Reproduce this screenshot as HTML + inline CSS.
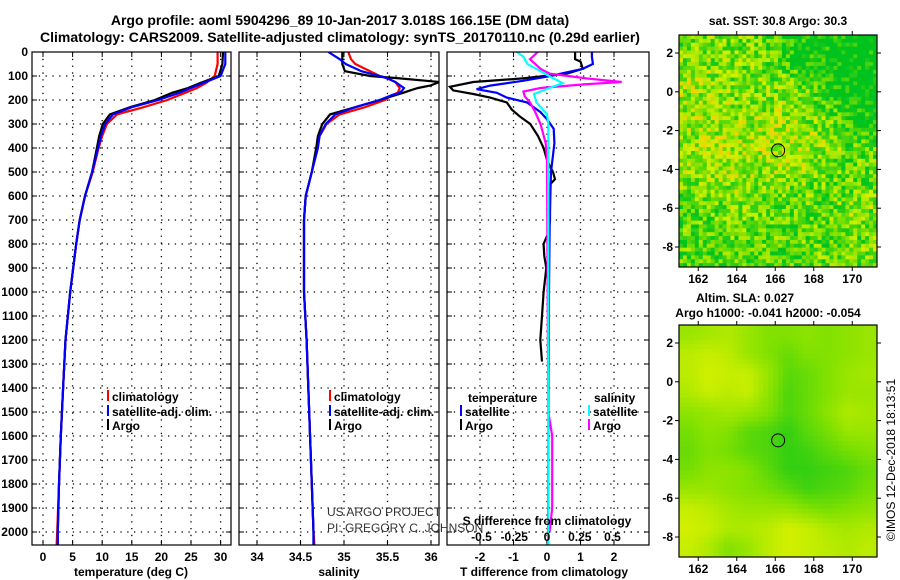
<!DOCTYPE html>
<html><head><meta charset="utf-8"><style>
body{margin:0;background:#fff;width:900px;height:580px;overflow:hidden}
svg{display:block}
text{font-family:"Liberation Sans",sans-serif;font-weight:bold;font-size:12px;fill:#000}
</style></head><body>
<svg id="s" width="900" height="580" xmlns="http://www.w3.org/2000/svg">
<text x="340" y="25" text-anchor="middle" style="font-size:14px">Argo profile: aoml 5904296_89 10-Jan-2017 3.018S 166.15E (DM data)</text>
<text x="340" y="42" text-anchor="middle" style="font-size:14px">Climatology: CARS2009. Satellite-adjusted climatology: synTS_20170110.nc (0.29d earlier)</text>
<g id="g"></g>
</svg>
<script>
// ---- data ----
const tDepth=[0,50,100,130,150,170,200,230,260,300,350,400,500,600,700,800,1000,1200,1400,1600,1800,2000,2054];
const tArgo=[30.4,30.3,29.7,26.5,24.5,21.8,18.9,14.7,11.3,10.1,9.5,9.1,8.3,7.1,6.2,5.6,4.6,3.8,3.4,3.0,2.7,2.5,2.5];
const tClim=[29.5,29.5,29.0,27.5,26.0,24.0,21.0,17.0,12.5,10.8,10.0,9.4,8.4,7.1,6.2,5.6,4.6,3.8,3.4,3.0,2.7,2.4,2.3];
const tSat=[30.8,30.8,30.0,27.0,25.0,23.0,19.5,15.0,11.8,10.5,9.8,9.3,8.3,7.1,6.2,5.6,4.6,3.8,3.4,3.0,2.7,2.5,2.5];
const sDepth=[0,30,50,80,100,110,125,140,150,160,170,180,200,230,260,300,350,400,500,600,700,1000,1200,1500,1800,2000,2054];
const sArgo=[34.98,34.98,34.98,35.01,35.3,35.64,36.1,35.99,35.85,35.76,35.68,35.59,35.41,35.13,34.84,34.75,34.70,34.68,34.63,34.56,34.54,34.54,34.57,34.60,34.63,34.65,34.65];
const sClim=[35.05,35.08,35.13,35.3,35.41,35.5,35.59,35.62,35.64,35.63,35.62,35.55,35.47,35.24,34.95,34.80,34.72,34.69,34.63,34.56,34.54,34.54,34.57,34.60,34.63,34.65,34.66];
const sSat=[34.82,34.95,35.02,35.2,35.41,35.5,35.59,35.65,35.69,35.67,35.64,35.55,35.41,35.13,34.90,34.79,34.72,34.70,34.63,34.56,34.54,34.54,34.57,34.60,34.63,34.65,34.65];
const dtArgoDepth=[0,30,40,70,90,110,125,145,160,175,190,210,240,270,300,350,400,450,480,500,530,550,600,700,750,800,850,900,1000,1100,1200,1290];
const dtArgo=[0.84,0.84,1.0,1.07,0.6,-0.72,-2.2,-2.9,-2.8,-2.2,-1.7,-1.2,-1.05,-0.8,-0.5,-0.27,-0.1,0,0.1,0.18,0.24,0.1,0.09,0.09,0.05,-0.1,-0.08,-0.02,-0.1,-0.15,-0.2,-0.15];
const dtSatDepth=[0,20,50,70,100,120,140,155,170,190,210,250,280,320,380,430,500,700,1000,2054];
const dtSat=[1.34,1.34,1.37,1.07,0.1,-0.72,-1.7,-2.1,-1.5,-1.2,-0.6,-0.2,0,0.2,0.22,0.18,0.12,0.08,0.06,0.03];
const dsArgoDepth=[0,30,70,90,110,125,135,150,165,185,210,250,300,380,450,1500,1600,1900,2000];
const dsArgo=[-0.07,-0.13,-0.05,0.02,0.3,0.57,0.28,-0.05,-0.18,-0.17,-0.13,-0.09,-0.05,-0.01,0,0.01,0.04,0.04,0.02];
const dsSatDepth=[0,20,50,80,110,130,150,175,210,260,300,2054];
const dsSat=[-0.23,-0.18,-0.15,-0.05,0.05,0.12,0.02,-0.1,-0.08,0,0.01,0.01];
const depthTicks=[0,100,200,300,400,500,600,700,800,900,1000,1100,1200,1300,1400,1500,1600,1700,1800,1900,2000];
const tTicks=[0,5,10,15,20,25,30];
const sTicks=[34,34.5,35,35.5,36];
const dtTicks=[-2,-1,0,1,2];
const dsTicks=[-0.5,-0.25,0,0.25,0.5];
const lonTicks=[162,164,166,168,170];
const latTicks=[2,0,-2,-4,-6,-8];
const floatLon=166.15, floatLat=-3.018;
const sstGrid=[
[0.7,0.7,0.7,0.7,0.6,0.3,0.2,0.2,0.1,0.1],
[0.75,0.75,0.7,0.7,0.6,0.4,0.3,0.2,0.1,0.1],
[0.8,0.75,0.7,0.65,0.7,0.7,0.6,0.2,0.1,0.1],
[0.8,0.8,0.75,0.7,0.75,0.8,0.7,0.5,0.2,0.15],
[0.8,0.8,0.8,0.8,0.8,0.8,0.75,0.7,0.4,0.3],
[0.8,0.8,0.85,0.8,0.85,0.85,0.8,0.75,0.6,0.5],
[0.8,0.8,0.85,0.85,0.85,0.9,0.85,0.75,0.6,0.6],
[0.7,0.75,0.8,0.8,0.75,0.8,0.7,0.6,0.6,0.6],
[0.6,0.6,0.7,0.7,0.6,0.6,0.6,0.6,0.65,0.7],
[0.6,0.6,0.7,0.65,0.6,0.6,0.55,0.6,0.7,0.7],
[0.6,0.55,0.6,0.6,0.6,0.55,0.6,0.6,0.65,0.7],
[0.55,0.5,0.5,0.55,0.6,0.55,0.6,0.6,0.65,0.7]];
const slaGrid=[
[0.6,0.65,0.7,0.6,0.5,0.5,0.55,0.5,0.55,0.6],
[0.75,0.8,0.75,0.6,0.5,0.4,0.5,0.5,0.55,0.6],
[0.75,0.85,0.8,0.8,0.6,0.35,0.4,0.5,0.6,0.65],
[0.7,0.8,0.75,0.8,0.55,0.3,0.4,0.5,0.6,0.6],
[0.55,0.6,0.65,0.6,0.5,0.3,0.4,0.55,0.7,0.65],
[0.45,0.55,0.5,0.35,0.3,0.2,0.35,0.45,0.6,0.6],
[0.4,0.5,0.45,0.35,0.3,0.2,0.25,0.35,0.45,0.5],
[0.45,0.55,0.55,0.5,0.35,0.2,0.2,0.25,0.3,0.4],
[0.6,0.6,0.55,0.5,0.45,0.35,0.25,0.3,0.35,0.45],
[0.8,0.75,0.65,0.6,0.6,0.6,0.5,0.45,0.5,0.55],
[0.85,0.8,0.7,0.7,0.75,0.85,0.8,0.7,0.65,0.7],
[0.8,0.7,0.5,0.6,0.75,0.85,0.8,0.75,0.7,0.75]];

// ---- helpers ----
const NS="http://www.w3.org/2000/svg";
const G=document.getElementById('g');
function mk(tag,attrs,parent){const e=document.createElementNS(NS,tag);for(const k in attrs)e.setAttribute(k,attrs[k]);(parent||G).appendChild(e);return e;}
function txt(x,y,s,anchor,parent,style){const e=mk('text',{x:x,y:y,'text-anchor':anchor||'start'},parent);if(style)e.setAttribute('style',style);e.textContent=s;return e;}
const Y0=52,YPX=0.24,YB=545;
const yD=d=>Y0+d*YPX;
const xT=v=>43+v*5.92;
const xS=v=>257+(v-34)*87;
const xDT=v=>547+v*33.5;
const xDS=v=>547+v*131;
const panels=[{l:32,r:231,name:'temperature-panel'},{l:239,r:439,name:'salinity-panel'},{l:447,r:649,name:'difference-panel'}];

panels.forEach((p,i)=>{
  const g=mk('g',{});
  
  
  p.g=g;
  const cp=mk('clipPath',{id:'c'+i},g);mk('rect',{x:p.l,y:Y0,width:p.r-p.l,height:YB-Y0},cp);
  depthTicks.forEach(d=>{if(d>0)mk('line',{x1:p.l,x2:p.r,y1:yD(d),y2:yD(d),stroke:'#000','stroke-width':1.3,'stroke-dasharray':'1.3,5.5'},g);
    mk('line',{x1:p.l,x2:p.l+5,y1:yD(d),y2:yD(d),stroke:'#000'},g);mk('line',{x1:p.r-5,x2:p.r,y1:yD(d),y2:yD(d),stroke:'#000'},g);});
});
depthTicks.forEach(d=>{const t=txt(28,yD(d)+4,String(d),'end');});
function xgrid(p,ticks,fx,labels){ticks.forEach(v=>{const x=fx(v);
  mk('line',{x1:x,x2:x,y1:Y0,y2:YB,stroke:'#000','stroke-width':1.3,'stroke-dasharray':'1.3,5.5'},p.g);
  mk('line',{x1:x,x2:x,y1:YB-5,y2:YB,stroke:'#000'},p.g);mk('line',{x1:x,x2:x,y1:Y0,y2:Y0+5,stroke:'#000'},p.g);
  if(labels){const t=txt(x,561,String(v),'middle',p.g);}});}
xgrid(panels[0],tTicks,xT,true);
xgrid(panels[1],sTicks,xS,true);
xgrid(panels[2],dtTicks,xDT,true);
function line(p,i,xs,ds,fx,color,name){
  const pts=xs.map((v,k)=>fx(v).toFixed(1)+','+yD(ds[k]).toFixed(1)).join(' ');
  const e=mk('polyline',{points:pts,fill:'none',stroke:color,'stroke-width':2.2,'clip-path':'url(#c'+i+')'},p.g);
  }
line(panels[0],0,tClim,tDepth,xT,'#f00','temperature-climatology-line');
line(panels[0],0,tArgo,tDepth,xT,'#000','temperature-argo-line');
line(panels[0],0,tSat,tDepth,xT,'#00f','temperature-satellite-line');
line(panels[1],1,sClim,sDepth,xS,'#f00','salinity-climatology-line');
line(panels[1],1,sArgo,sDepth,xS,'#000','salinity-argo-line');
line(panels[1],1,sSat,sDepth,xS,'#00f','salinity-satellite-line');
line(panels[2],2,dtArgo,dtArgoDepth,xDT,'#000','t-diff-argo-line');
line(panels[2],2,dtSat,dtSatDepth,xDT,'#00f','t-diff-satellite-line');
line(panels[2],2,dsArgo,dsArgoDepth,xDS,'#f0f','s-diff-argo-line');
line(panels[2],2,dsSat,dsSatDepth,xDS,'#0ff','s-diff-satellite-line');
const p3=panels[2];
mk('line',{x1:p3.l,x2:p3.r,y1:532,y2:532,stroke:'#000','stroke-width':1.3,'stroke-dasharray':'1.3,5.5'},p3.g);
dsTicks.forEach(v=>{const t=txt(xDS(v),541,String(v),'middle',p3.g);});
panels.forEach(p=>mk('rect',{x:p.l,y:Y0,width:p.r-p.l,height:YB-Y0,fill:'none',stroke:'#000','stroke-width':1.2},p.g));
function leg(x,y,color,label,name){const g=mk('g',{});
  mk('rect',{x:x,y:y-7,width:2,height:11,fill:color},g);if(label)txt(x+5,y+4,label,'start',g);}
leg(107,397,'#f00','climatology','legend-climatology');
leg(107,412,'#00f','satellite-adj. clim.','legend-satellite-adj');
leg(107,426,'#000','Argo','legend-argo');
leg(329,397,'#f00','climatology','legend-climatology-sal');
leg(329,412,'#00f','satellite-adj. clim.','legend-satellite-adj-sal');
leg(329,426,'#000','Argo','legend-argo-sal');
txt(468,402,'temperature');txt(594,402,'salinity');
leg(460,412,'#00f','satellite','legend-t-satellite');
leg(460,426,'#000','Argo','legend-t-argo');
leg(588,412,'#0ff','satellite','legend-s-satellite');
leg(588,426,'#f0f','Argo','legend-s-argo');
txt(131,576,'temperature (deg C)','middle');
txt(339,576,'salinity','middle');
txt(544,576,'T difference from climatology','middle');
txt(547,525,'S difference from climatology','middle');
txt(327,516,'US ARGO PROJECT','start',null,'font-weight:normal;fill:#333');
txt(327,532,'PI: GREGORY C. JOHNSON','start',null,'font-weight:normal;fill:#333');

// ---- maps ----
function col(v){let r,g,b=0;
  if(v<0.5){const f=v/0.5;r=0+130*f;g=195+30*f;b=30*(1-f);}
  else if(v<0.85){const f=(v-0.5)/0.35;r=130+80*f;g=225+15*f;}
  else{const f=Math.min(1,(v-0.85)/0.15);r=210+30*f;g=240-30*f;}
  return 'rgb('+Math.round(r)+','+Math.round(g)+','+Math.round(b)+')';}
function hash(i,j){let h=(i*374761393+j*668265263)>>>0;h=((h^(h>>>13))*1274126177)>>>0;return ((h^(h>>>16))%1000)/1000;}
function drawMap(top,grid,name,noisy){
  const g=mk('g',{});
  const L=679,R=877,H=232,W=R-L,rows=grid.length,cols=grid[0].length,sub=noisy?5:4;
  const nx=cols*sub,ny=rows*sub,cw=W/nx,ch=H/ny;
  for(let j=0;j<ny;j++)for(let i=0;i<nx;i++){
    const fx=Math.min(Math.max((i+0.5)/sub-0.5,0),cols-1.001),fy=Math.min(Math.max((j+0.5)/sub-0.5,0),rows-1.001);
    const i0=Math.floor(fx),j0=Math.floor(fy),ax=fx-i0,ay=fy-j0;
    let v=grid[j0][i0]*(1-ax)*(1-ay)+grid[j0][i0+1]*ax*(1-ay)+grid[j0+1][i0]*(1-ax)*ay+grid[j0+1][i0+1]*ax*ay;
    if(noisy){v+=(hash(i,j)-0.5)*0.45;v=Math.max(0,Math.min(1,v));}
    const c=mk('rect',{x:(L+i*cw).toFixed(2),y:(top+j*ch).toFixed(2),width:(cw+0.4).toFixed(2),height:(ch+0.4).toFixed(2),fill:col(v)},g);
    
    
  }
  const yl=lat=>top+18+(2-lat)*19.4, xl=lon=>679+(lon-161)*19.25;
  mk('rect',{x:L,y:top,width:W,height:H,fill:'none',stroke:'#000','stroke-width':1.2},g);
  lonTicks.forEach(v=>{mk('line',{x1:xl(v),x2:xl(v),y1:top,y2:top-4,stroke:'#000'},g);mk('line',{x1:xl(v),x2:xl(v),y1:top+H,y2:top+H+4,stroke:'#000'},g);
    const t=txt(xl(v),top+H+16,String(v),'middle',g);});
  latTicks.forEach(v=>{mk('line',{x1:L,x2:L-4,y1:yl(v),y2:yl(v),stroke:'#000'},g);mk('line',{x1:R,x2:R+4,y1:yl(v),y2:yl(v),stroke:'#000'},g);
    const t=txt(673,yl(v)+4,String(v),'end',g);});
  const m=mk('circle',{cx:xl(floatLon),cy:yl(floatLat),r:6.5,fill:'none',stroke:'#000','stroke-width':1},g);
  
}
drawMap(35,sstGrid,'sst-map',true);
drawMap(325,slaGrid,'sla-map',false);
txt(778,25,'sat. SST: 30.8 Argo: 30.3','middle');
txt(745,302,'Altim. SLA: 0.027','middle');
txt(768,317,'Argo h1000: -0.041 h2000: -0.054','middle');
const cr=txt(0,0,'©IMOS 12-Dec-2018 18:13:51','middle',null,'font-weight:normal');
cr.setAttribute('transform','translate(895,460) rotate(-90)');


</script>
</body></html>
